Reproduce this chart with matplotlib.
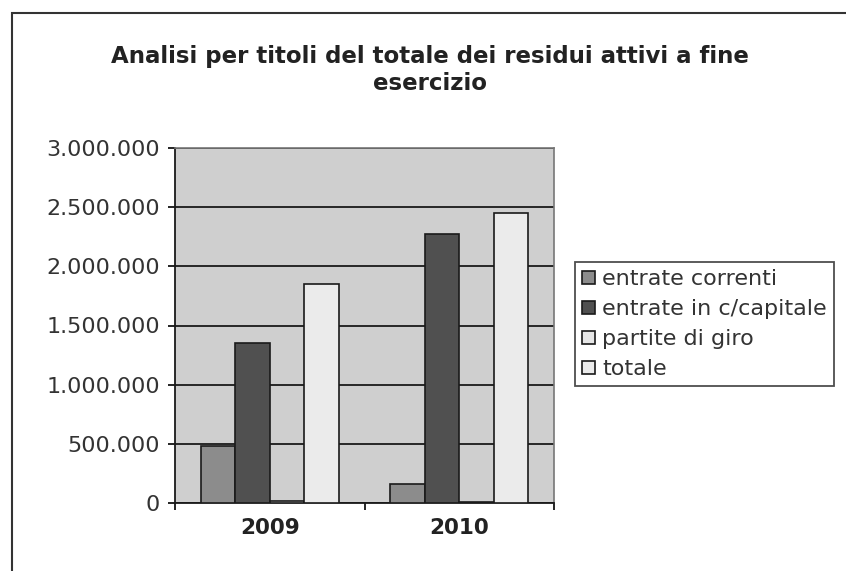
import matplotlib.pyplot as plt
from matplotlib.patches import Rectangle
from matplotlib.ticker import FuncFormatter

# valori
anni = ["2009", "2010"]
serie = ["entrate correnti", "entrate in c/capitale", "partite di giro", "totale"]
entrate_correnti = [478000, 161000]
entrate_capitale = [1356000, 2274000]
partite_di_giro = [14000, 5000]
totale = [1850000, 2449000]

colori = ["#8c8c8c", "#505050", "#e6e6e6", "#ebebeb"]
valori = [entrate_correnti, entrate_capitale, partite_di_giro, totale]


def fmt_migliaia(v, pos):
    return f"{int(v):,}".replace(",", ".")


fig = plt.figure(figsize=(8.46, 5.71), dpi=100)
ax = fig.add_axes([175 / 846, 1 - 503 / 571, 379 / 846, 355 / 571])

# bordo del grafico (solo sinistra e alto visibili)
fig.patches.append(Rectangle((12 / 846, -0.1), 1.2, 1 - 13 / 571 + 0.1,
                             transform=fig.transFigure, fill=False,
                             edgecolor="#333333", linewidth=1.5))

ax.set_facecolor("#cfcfcf")
w = 1 / 5.5
for j, (nome, vals) in enumerate(zip(serie, valori)):
    xs = [i + 0.75 * w + (j + 0.5) * w for i in range(len(anni))]
    ax.bar(xs, vals, width=w, color=colori[j], edgecolor="#1a1a1a",
           linewidth=1.2, label=nome, zorder=3)

ax.set_xlim(0, 2)
ax.set_ylim(0, 3000000)
ax.set_yticks(range(0, 3000001, 500000))
ax.yaxis.set_major_formatter(FuncFormatter(fmt_migliaia))
ax.yaxis.grid(True, color="#1a1a1a", linewidth=1.3, zorder=1)

ax.set_xticks([0, 1, 2])
ax.set_xticklabels([])
ax.set_xticks([0.5, 1.5], minor=True)
ax.set_xticklabels(anni, minor=True, fontsize=15.5, fontweight="bold", color="#222222")
ax.tick_params(axis="x", which="minor", length=0, pad=11)
ax.tick_params(axis="x", which="major", length=5, width=1.2, direction="out")
ax.tick_params(axis="y", length=5, width=1.2, labelsize=16, labelcolor="#333333", pad=6)

for s in ["left", "bottom"]:
    ax.spines[s].set_color("#1a1a1a")
    ax.spines[s].set_linewidth(1.3)
for s in ["top", "right"]:
    ax.spines[s].set_color("#777777")
    ax.spines[s].set_linewidth(1.2)

fig.text(0.508, 0.877, "Analisi per titoli del totale dei residui attivi a fine\nesercizio",
         ha="center", va="center", fontsize=16.5, fontweight="bold", color="#222222",
         linespacing=1.2)

leg = fig.legend(loc="upper left", bbox_to_anchor=(575 / 846, 1 - 262 / 571),
                 fontsize=16, frameon=True, fancybox=False, handlelength=0.6,
                 handleheight=0.5, handletextpad=0.3, borderpad=0.32,
                 labelspacing=0.45, borderaxespad=0)
leg.get_frame().set_edgecolor("#222222")
leg.get_frame().set_linewidth(1.3)
for t in leg.get_texts():
    t.set_color("#333333")

fig.savefig("out.png", dpi=100)
